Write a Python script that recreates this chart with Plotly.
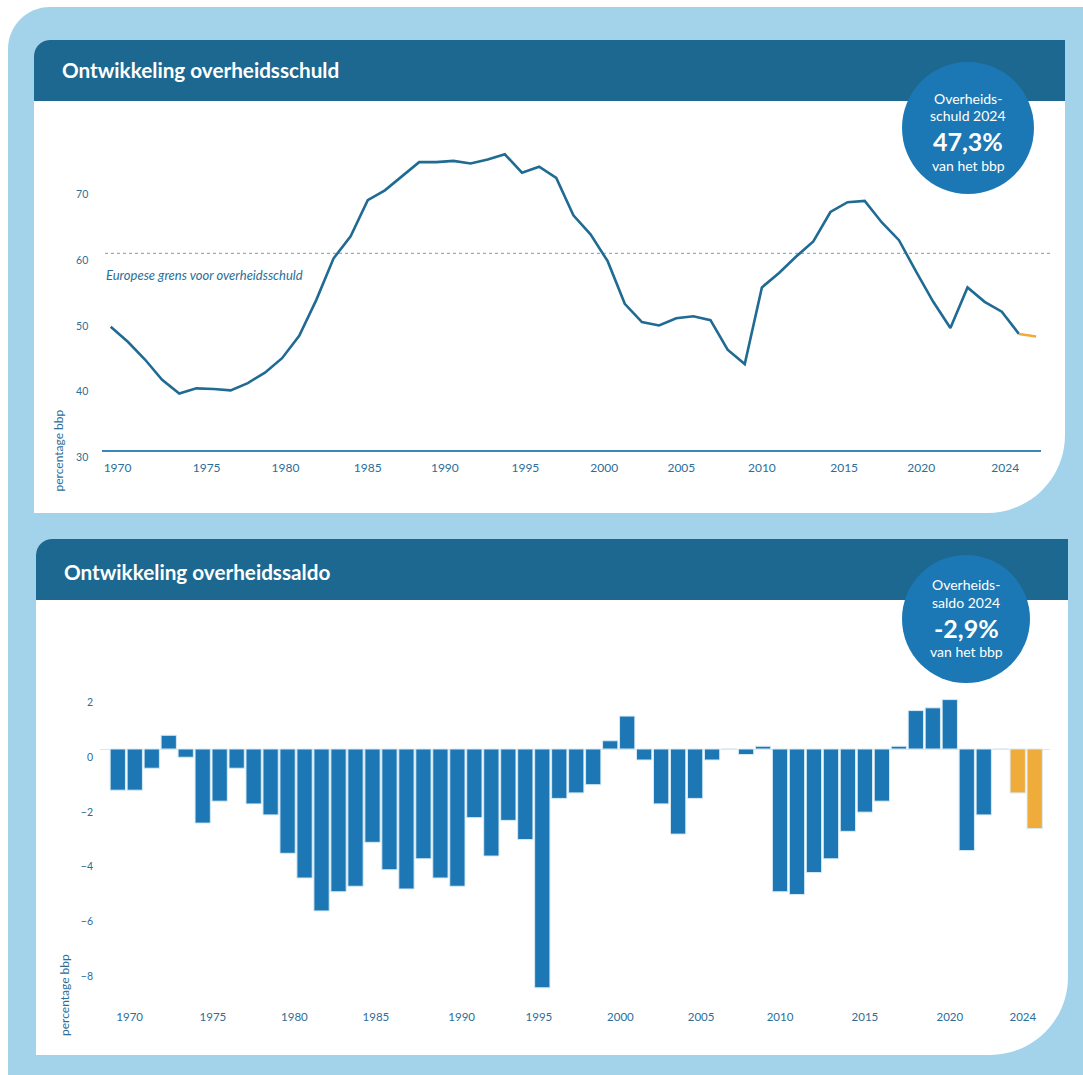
import plotly.graph_objects as go

# design coordinates follow the 1083x1075 reference; the figure is laid out
# in paper fractions, so every position scales with the figure size
W, H = 1083, 1075
FIG_W, FIG_H = 1083, 1088

# ---------------- data ----------------
years = list(range(1970, 2025))

# government debt (% of GDP)
debt = [48.8, 46.5, 43.8, 40.7, 38.6, 39.4, 39.3, 39.1, 40.2, 41.8,
        44.0, 47.4, 52.9, 59.2, 62.6, 68.1, 69.6, 71.7, 73.9, 73.9,
        74.1, 73.7, 74.3, 75.1, 72.3, 73.2, 71.5, 65.8, 62.9, 58.8,
        52.3, 49.5, 49.0, 50.1, 50.4, 49.8, 45.3, 43.1, 54.8, 57.0,
        59.5, 61.8, 66.3, 67.8, 68.0, 64.7, 62.0, 57.2, 52.6, 48.6,
        54.8, 52.6, 51.1, 47.7, 47.3]

# government balance (% of GDP)
saldo = [-1.5, -1.5, -0.7, 0.5, -0.3, -2.7, -1.9, -0.7, -2.0, -2.4,
         -3.8, -4.7, -5.9, -5.2, -5.0, -3.4, -4.4, -5.1, -4.0, -4.7,
         -5.0, -2.5, -3.9, -2.6, -3.3, -8.7, -1.8, -1.6, -1.3, 0.3,
         1.2, -0.4, -2.0, -3.1, -1.8, -0.4, 0.0, -0.2, 0.1, -5.2,
         -5.3, -4.5, -4.0, -3.0, -2.3, -1.9, 0.1, 1.4, 1.5, 1.8,
         -3.7, -2.4, 0.0, -1.6, -2.9]

estimate_years = [2023, 2024]
eu_limit = 60

debt_ticks = [30, 40, 50, 60, 70]
saldo_ticks = [2, 0, -2, -4, -6, -8]
year_labels = ["1970", "1975", "1980", "1985", "1990", "1995", "2000",
               "2005", "2010", "2015", "2020", "2024"]
# where the year labels sit in the original (they are not on the exact years)
debt_label_pos = [1970.4, 1975.6, 1980.2, 1985.0, 1989.5, 1994.2, 1998.8,
                  2003.3, 2008.0, 2012.8, 2017.3, 2022.2]
saldo_label_pos = [1970.7, 1975.6, 1980.4, 1985.2, 1990.25, 1994.8, 1999.6,
                   2004.35, 2009.0, 2014.0, 2019.0, 2023.3]

# ---------------- colours ----------------
FRAME = "#a2d3ea"
HEADER = "#1c6890"
CIRCLE = "#1b78b4"
LINE = "#1f6b93"
BAR = "#1c77b4"
ORANGE = "#f0ac3b"
AXIS = "#3a86b6"
TXT = "#2b6e98"
FONT = "Lato"


def px(x, y):
    return f"{x / W:.5f},{1 - y / H:.5f}"


def rrect(x0, y0, x1, y1, tl=0, tr=0, br=0, bl=0):
    k = 0.4477  # 1 - 0.5523
    s = [f"M{px(x0 + tl, y0)}", f"L{px(x1 - tr, y0)}"]
    if tr:
        s.append(f"C{px(x1 - tr * k, y0)} {px(x1, y0 + tr * k)} {px(x1, y0 + tr)}")
    s.append(f"L{px(x1, y1 - br)}")
    if br:
        s.append(f"C{px(x1, y1 - br * k)} {px(x1 - br * k, y1)} {px(x1 - br, y1)}")
    s.append(f"L{px(x0 + bl, y1)}")
    if bl:
        s.append(f"C{px(x0 + bl * k, y1)} {px(x0, y1 - bl * k)} {px(x0, y1 - bl)}")
    s.append(f"L{px(x0, y0 + tl)}")
    if tl:
        s.append(f"C{px(x0, y0 + tl * k)} {px(x0 + tl * k, y0)} {px(x0 + tl, y0)}")
    s.append("Z")
    return " ".join(s)


def pshape(path, color):
    return dict(type="path", xref="paper", yref="paper", path=path,
                fillcolor=color, line=dict(width=0), layer="below")


def circ(cx, cy, r, color):
    return dict(type="circle", xref="paper", yref="paper",
                x0=(cx - r) / W, x1=(cx + r) / W,
                y0=1 - (cy + r) / H, y1=1 - (cy - r) / H,
                fillcolor=color, line=dict(width=0), layer="below")


fig = go.Figure()

# ---------------- debt line ----------------
hist_idx = [i for i, y in enumerate(years) if y <= estimate_years[0]]
est_idx = [i for i, y in enumerate(years) if y >= estimate_years[0]]
fig.add_trace(go.Scatter(x=[years[i] for i in hist_idx], y=[debt[i] for i in hist_idx],
                         mode="lines", line=dict(color=LINE, width=2.6),
                         xaxis="x", yaxis="y", showlegend=False, hoverinfo="skip"))
fig.add_trace(go.Scatter(x=[years[i] for i in est_idx], y=[debt[i] for i in est_idx],
                         mode="lines", line=dict(color=ORANGE, width=2.6),
                         xaxis="x", yaxis="y", showlegend=False, hoverinfo="skip"))

# ---------------- balance bars ----------------
bar_colors = [ORANGE if y in estimate_years else BAR for y in years]
fig.add_trace(go.Bar(x=years, y=saldo, marker=dict(color=bar_colors,
                     line=dict(color="#d6eaf5", width=1)),
                     xaxis="x2", yaxis="y2", showlegend=False, hoverinfo="skip"))

# ---------------- shapes ----------------
shapes = [
    pshape(rrect(8, 7, 1083, 1075, tl=42), FRAME),
    pshape(rrect(34, 40, 1065, 513, tl=16, br=78), "white"),
    pshape(rrect(34, 40, 1065, 101, tl=16), HEADER),
    pshape(rrect(36, 539, 1068, 1055, tl=16, br=78), "white"),
    pshape(rrect(36, 539, 1068, 600, tl=16), HEADER),
    circ(968, 128, 66, CIRCLE),
    circ(966, 619, 64, CIRCLE),
    dict(type="line", xref="paper", yref="y", x0=105 / W, x1=1052 / W,
         y0=eu_limit, y1=eu_limit, line=dict(color="#6a9fc0", width=1, dash="dot"),
         layer="below"),
]

# ---------------- annotations ----------------
def ann(text, x, y, size, color="white", xanchor="center", angle=0, yanchor="middle"):
    return dict(text=text, x=x / W, y=1 - y / H, xref="paper", yref="paper",
                showarrow=False, xanchor=xanchor, yanchor=yanchor, textangle=angle,
                font=dict(family=FONT, size=size, color=color))

annotations = [
    ann("<b>Ontwikkeling overheidsschuld</b>", 60, 70, 20.7, xanchor="left"),
    ann("<b>Ontwikkeling overheidssaldo</b>", 62, 572, 20.7, xanchor="left"),
    ann("<i>Europese grens voor overheidsschuld</i>", 104, 275, 13, TXT, xanchor="left"),
    ann("percentage bbp", 57.5, 451, 12, TXT, angle=-90),
    ann("percentage bbp", 64, 995, 12, TXT, angle=-90),
    ann("Overheids-", 968, 99, 14),
    ann("schuld 2024", 968, 116, 14),
    ann("<b>47,3%</b>", 968, 141, 25),
    ann("van het bbp", 968, 166, 14),
    ann("Overheids-", 966, 584, 14),
    ann("saldo 2024", 966, 602, 14),
    ann("<b>-2,9%</b>", 966, 628, 25),
    ann("van het bbp", 966, 651, 14),
]

tickfont = dict(family=FONT, size=12, color=TXT)
ytickfont = dict(family=FONT, size=10.5, color=TXT)

fig.update_layout(
    width=FIG_W, height=FIG_H,
    margin=dict(l=0, r=0, t=0, b=0),
    paper_bgcolor="white",
    plot_bgcolor="rgba(0,0,0,0)",
    showlegend=False,
    hovermode=False,
    bargap=0.1,
    shapes=shapes,
    annotations=annotations,
    xaxis=dict(domain=[102.3 / W, 1040.7 / W], range=[1969.51, 2024.27],
               anchor="y", showgrid=False, zeroline=False,
               showline=True, linecolor=AXIS, linewidth=1.8,
               tickvals=debt_label_pos, ticktext=year_labels, ticks="",
               tickfont=tickfont, ticklabelstandoff=6),
    yaxis=dict(domain=[1 - 450 / H, 1 - 140 / H], range=[30, 77.28],
               anchor="x", showgrid=False, zeroline=False, showline=False,
               tickvals=debt_ticks, ticks="", tickfont=ytickfont,
               ticklabelshift=7, ticklabelstandoff=13),
    xaxis2=dict(domain=[100 / W, 1050 / W], range=[1968.952, 2024.901],
                anchor="y2", showgrid=False, zeroline=False, showline=False,
                tickvals=saldo_label_pos, ticktext=year_labels, ticks="",
                tickfont=dict(family=FONT, size=11.5, color=TXT),
                ticklabelstandoff=13),
    yaxis2=dict(domain=[1 - 995 / H, 1 - 680 / H], range=[-8.962, 2.514],
                anchor="x2", showgrid=False, zeroline=True,
                zerolinecolor="#d6eaf5", zerolinewidth=1, showline=False,
                tickvals=saldo_ticks, ticks="", tickfont=ytickfont,
                ticklabelshift=8, ticklabelstandoff=6),
)

page_js = (
    "var de=document.documentElement, b=document.body;"
    "de.style.margin='0'; de.style.padding='0'; de.style.overflow='hidden';"
    "b.style.margin='0'; b.style.padding='0'; b.style.overflow='hidden';"
)

fig.write_html("out.html", post_script=page_js,
               config={"displayModeBar": False, "staticPlot": True})
